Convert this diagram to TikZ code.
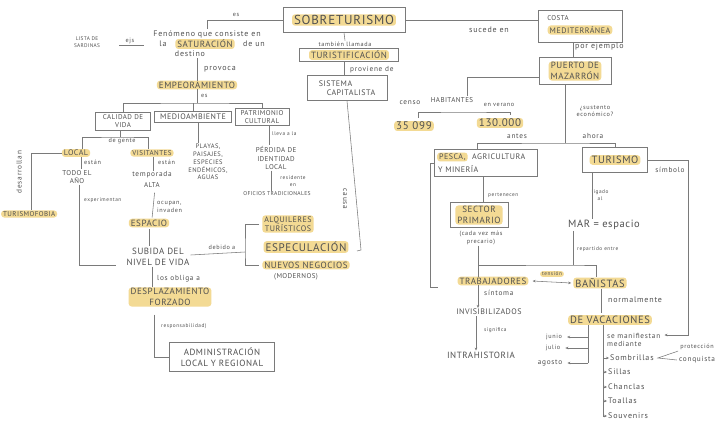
\documentclass[tikz,border=0pt]{standalone}
\usepackage{fontspec}
\setmainfont{PT Sans}
\newfontfamily\spc{PT Sans}[LetterSpace=6]
\newfontfamily\lspc{PT Sans}[LetterSpace=10]
\usetikzlibrary{arrows.meta}
\definecolor{tc}{HTML}{505050}
\definecolor{lc}{HTML}{7A7A7A}
\definecolor{hlc}{HTML}{F3DA94}
\begin{document}
\begin{tikzpicture}[x=1pt,y=-1pt,
  every node/.style={text=tc, inner sep=1pt},
  conn/.style={draw=lc, line width=0.55pt},
  arr/.style={conn, -{Stealth[length=3pt,width=2.6pt]}},
  box/.style={draw=lc, line width=0.6pt, inner sep=0pt},
  kT/.style={font=\spc\fontsize{5.6}{6.6}\selectfont, align=center},
  kXS/.style={font=\spc\fontsize{6.5}{7.8}\selectfont, align=center},
  kS/.style={font=\spc\fontsize{7}{8.3}\selectfont, align=center},
  kM/.style={font=\spc\fontsize{8}{9.5}\selectfont, align=center},
  kL/.style={font=\spc\fontsize{9}{10.5}\selectfont, align=center},
  kX/.style={font=\spc\fontsize{10.5}{12}\selectfont, align=center},
  fen/.style={font=\lspc\fontsize{8}{9}\selectfont, align=center},
  la/.style={font=\lspc\fontsize{7.3}{8.3}\selectfont, align=center},
  lbm/.style={font=\lspc\fontsize{6.2}{7.2}\selectfont, align=center},
  lsm/.style={font=\lspc\fontsize{5.3}{6.3}\selectfont, align=center},
  item/.style={font=\lspc\fontsize{8}{9}\selectfont},
  hl/.style={fill=hlc, rounded corners=3pt, inner xsep=2pt, inner ysep=1pt},
]
\fill[white] (0,0) rectangle (720,424);
\useasboundingbox (0,0) rectangle (720,424);

% ---------- top centre ----------
\node[hl, font=\spc\fontsize{13}{15}\selectfont] (sobt) at (344,20) {SOBRETURISMO};
\node[box, minimum width=122pt, minimum height=25pt] (sob) at (344,20) {};
\node[lbm] (es) at (236,15) {es};

\node[fen] (fen1) at (207,34) {Fenómeno que consiste en};
\node[fen] (fen2a) at (163,44) {la};
\node[hl, kL] (sat) at (205,44) {SATURACIÓN};
\node[fen] (fen2b) at (254,44) {de un};
\node[fen] (fen3) at (190,54) {destino};
\draw[conn] (sob.west) -| (fen1.north);

\node[font=\spc\fontsize{5.3}{6.3}\selectfont, align=center] (lista) at (87,42) {LISTA DE\\SARDINAS};
\node[lbm] (ejs) at (130,41) {ejs};
\draw[conn] ([xshift=-5pt]ejs.south west) -- ([xshift=8pt]ejs.south east);

\node[hl, kL] (emp) at (197,85) {EMPEORAMIENTO};
\node[fen, anchor=west] (provoca) at (203,69) {provoca};
\draw[conn] (emp.north |- fen3.south) -- (emp.north);
\node[lbm, anchor=west] (es2) at (200,96) {es};
\coordinate (bar1) at (197,103);
\draw[conn] (emp.south) -- (bar1);

\node[box, kS, minimum width=55pt, minimum height=18pt] (cal) at (123,121) {CALIDAD DE\\VIDA};
\node[box, kM, minimum width=77pt, minimum height=11pt] (med) at (193,117) {MEDIOAMBIENTE};
\node[box, kS, minimum width=54pt, minimum height=17pt] (pat) at (262,117) {PATRIMONIO\\CULTURAL};
\draw[conn] (cal.north) |- (bar1) -| (pat.north);
\draw[conn] (bar1 -| med.north) -- (med.north);

% ---------- calidad de vida ----------
\coordinate (bar2) at (120,137);
\node[lbm] (gente) at (122,141) {de gente};
\node[hl, kM] (local) at (76,153) {LOCAL};
\node[hl, kS] (visit) at (152,153) {VISITANTES};
\draw[conn] (cal.south -| bar2) -- (bar2);
\draw[conn] ([xshift=6pt]local.north) |- (bar2) -| ([xshift=-4pt]visit.north);

\node[hl, kS, anchor=west] (fobia) at (1,214) {TURISMOFOBIA};
\draw[conn] (local.west) -| ([xshift=2pt]fobia.north);
\node[la, rotate=90] (desa) at (19,172) {desarrollan};

\node[lbm, anchor=west] (estan1) at (83,162) {están};
\node[kS] (todo) at (77,177) {TODO EL\\AÑO};
\draw[conn] ([xshift=-2pt]estan1.west |- local.south) -- ([xshift=-2pt]estan1.west |- todo.north);
\node[lsm, anchor=west] (exper) at (83,200) {experimentan};
\coordinate (subL) at (116,265);
\draw[conn] ([xshift=2pt]todo.south) |- (subL);

\node[lbm, anchor=west] (estan2) at (157,162) {están};
\node[la] (temp) at (152,175) {temporada};
\node[kS] (alta) at (152,185) {ALTA};
\draw[conn] ([xshift=1pt]visit.south) -- ([xshift=1pt]visit.south |- temp.north);
\node[lbm, anchor=west, align=left] (ocupan) at (156,207) {ocupan,\\invaden};
\node[hl, kL] (esp) at (149,223) {ESPACIO};
\draw[conn, shorten <=4pt, shorten >=1pt] ([xshift=3pt]alta.south) -- ([xshift=3pt]esp.north);

\node[kL] (sub) at (158,257) {SUBIDA DEL\\NIVEL DE VIDA};
\draw[conn, shorten <=2pt, shorten >=1pt] (esp.south) -- (esp.south |- sub.north);

\node[lbm] (deb) at (222,247) {debido a};
\coordinate (brk) at (245,252);
\draw[conn] ([yshift=2pt]sub.east) -- (brk);
\node[hl, kM] (alq) at (288,224) {ALQUILERES\\TURÍSTICOS};
\node[hl, font=\spc\fontsize{11}{12.5}\selectfont] (espec) at (306,247) {ESPECULACIÓN};
\node[hl, kL] (nue) at (306,265) {NUEVOS NEGOCIOS};
\node[kS] (mod) at (296,277) {(MODERNOS)};
\draw[conn] ([xshift=-3pt]alq.west) -| (brk) |- ([xshift=-3pt]nue.west);

\node[la, anchor=west] (obl) at (156,279) {los obliga a};
\node[hl, kL] (desp) at (170,297) {DESPLAZAMIENTO\\FORZADO};
\draw[conn] ([xshift=-6pt]sub.south) -- ([xshift=-6pt]sub.south |- desp.north);
\node[lsm, anchor=west] (resp) at (160,326) {responsabilidad)};
\node[box, kL, minimum width=105pt, minimum height=29pt] (adm) at (222,357) {ADMINISTRACIÓN\\LOCAL Y REGIONAL};
\draw[conn] ([xshift=-16pt,yshift=-8pt]desp.south) |- (adm.west);

% ---------- medioambiente / patrimonio ----------
\node[kXS] (play) at (208,162) {PLAYAS,\\PAISAJES,\\ESPECIES\\ENDÉMICOS,\\AGUAS};
\draw[conn] ([xshift=5pt]med.south) -- ([xshift=5pt]med.south |- play.north);

\node[lsm, anchor=west] (lleva) at (271,134) {lleva a la};
\node[kS] (perd) at (276,158) {PÉRDIDA DE\\IDENTIDAD\\LOCAL};
\draw[conn] ([xshift=-2pt]lleva.west |- pat.south) -- ([xshift=-2pt]lleva.west |- perd.north);
\node[lsm] (resid) at (293,181) {residente\\en};
\node[kT] (ofic) at (277,194) {OFICIOS TRADICIONALES};
\draw[conn] ([xshift=-5pt]perd.south) -- ([xshift=-5pt]perd.south |- ofic.north);

% ---------- centre column ----------
\node[lbm] (tamb) at (345,44) {también llamada};
\draw[conn] (sob.south) -- (tamb.north);
\node[hl, kL] (turt) at (349,55) {TURISTIFICACIÓN};
\node[box, minimum width=99pt, minimum height=13pt] (tur) at (349,55) {};
\node[la, anchor=west] (prov) at (349,70) {proviene de};
\node[box, kM, minimum width=80pt, minimum height=25pt, align=left] (sis) at (347,88) {SISTEMA\\\quad CAPITALISTA};
\draw[conn] ([xshift=-5pt]tur.south) -- ([xshift=-5pt]tur.south |- sis.north);
\coordinate (causaEnd) at (361,250);
\coordinate (causaTip) at (357,251);
\draw[conn] (sis.south) -- (causaEnd) -- (causaTip);
\node[la, rotate=-90] (causa) at (345,199) {causa};

% ---------- right top ----------
\node[kS] (cos1) at (558,18) {COSTA};
\node[hl, kM] (cos2) at (580,30) {MEDITERRÁNEA};
\node[box, minimum width=84pt, minimum height=32pt] (cos) at (580,26) {};
\draw[conn] (sob.east) -- (sob.east -| cos.west);
\node[fen] (suc) at (489,30) {sucede en};
\node[fen, anchor=west] (ej) at (574,47) {por ejemplo};

\node[hl, kL] (puet) at (575,71) {PUERTO DE\\MAZARRÓN};
\node[box, minimum width=72pt, minimum height=27pt] (pue) at (575,71) {};
\draw[conn] ([xshift=-7pt]cos.south) -- ([xshift=-7pt]cos.south |- pue.north);

\node[kS] (hab) at (452,100) {HABITANTES};
\draw[conn] ([yshift=-6pt]pue.west) -| ([xshift=15pt]hab.north);
\node[la] (censo) at (410,103) {censo};
\node[lbm] (ver) at (499,105) {en verano};
\coordinate (habB) at (463,112);
\node[hl, font=\spc\fontsize{11}{12.5}\selectfont] (n1) at (414,126) {35 099};
\node[hl, font=\spc\fontsize{11}{12.5}\selectfont] (n2) at (500,123) {130.000};
\draw[conn] ([xshift=4pt,yshift=3pt]n1.north) |- (habB) -| ([xshift=10pt,yshift=3pt]n2.north);

\node[lbm] (sust) at (595,111) {¿sustento\\económico?};
\node[la] (antes) at (517,136) {antes};
\node[la] (ahora) at (593,136) {ahora};
\coordinate (sbar) at (565,143);

\node[box, minimum width=103pt, minimum height=27pt] (pes) at (486,163) {};
\node[hl, kM, anchor=west] (pesca) at (437,157) {PESCA,};
\node[kM, anchor=west] (agri) at (471,157) {AGRICULTURA};
\node[kM, anchor=west] (mine) at (437,169) {Y MINERÍA};
\node[hl, kX] (turi) at (615,160) {TURISMO};
\node[box, minimum width=65pt, minimum height=25pt] (tur2) at (615,160) {};
\draw[conn] ([xshift=-10pt]pue.south) -- (sbar);
\draw[conn] ([xshift=-9pt]pes.north) |- (sbar) -| (tur2.north);
\node[la] (simb) at (670,170) {símbolo};

\node[lsm, anchor=west] (pert) at (487,195) {pertenecen};
\node[hl, kL] (secT) at (479,215) {SECTOR\\PRIMARIO};
\node[box, minimum width=58pt, minimum height=25pt] (sec) at (479,215) {};
\draw[conn] ([xshift=-3pt]pes.south) -- ([xshift=-3pt]pes.south |- sec.north);
\node[lbm] (prec) at (481,238) {(cada vez más\\precario)};

\node[lsm] (lig) at (600,195) {ligado\\al};
\node[font=\spc\fontsize{10.5}{12}\selectfont] (mar) at (604,225) {MAR = espacio};
\draw[conn] ([xshift=-23pt]tur2.south) -- ([xshift=-23pt]tur2.south |- mar.north);

\node[lsm, anchor=west] (rep) at (576,249) {repartido entre};
\coordinate (rbar) at (573,265);
\coordinate (tl) at (478,265);
\draw[conn] (rbar |- mar.south) -- (rbar);
\node[hl, kL] (trab) at (493,281) {TRABAJADORES};
\node[hl, kX] (ban) at (600,283) {BAÑISTAS};
\draw[conn] (tl |- prec.south) -- (tl |- trab.north);
\draw[conn] (tl) -- (rbar) -| ([xshift=-4pt]ban.north);
\node[hl, lsm] (tens) at (552,274) {tensión};
\draw[conn, {Stealth[length=3pt,width=2.6pt]}-{Stealth[length=3pt,width=2.6pt]}] ([xshift=4pt]trab.east) -- ([xshift=-2pt]ban.west);

\coordinate (lb) at (438,287);
\draw[conn] (pes.west) -- ++(-4,0) |- (lb);

\node[la, anchor=west] (sint) at (483,293) {síntoma};
\node[kM] (inv) at (489,312) {INVISIBILIZADOS};
\draw[arr] (tl |- trab.south) -- (tl |- inv.north);
\node[lsm, anchor=west] (sig) at (483,330) {significa};
\node[kL] (intra) at (481,355) {INTRAHISTORIA};
\draw[arr] ([xshift=-2pt]tl |- inv.south) -- ([xshift=-2pt]tl |- intra.north);

\node[fen, anchor=west] (norm) at (607,300) {normalmente};
\node[hl, kX] (vac) at (610,320) {DE VACACIONES};
\draw[conn, shorten >=2pt] ([xshift=1pt]ban.south) -- ([xshift=1pt]ban.south |- vac.north);

\node[lbm] (jun) at (554,337) {junio};
\node[lbm] (jul) at (553,348) {julio};
\node[la] (ago) at (550,363) {agosto};
\coordinate (mvb) at (588,363);
\draw[conn] (vac.south -| mvb) -- (mvb);
\draw[arr] (jun.east -| mvb) -- ([xshift=4pt]jun.east);
\draw[arr] (jul.east -| mvb) -- ([xshift=4pt]jul.east);
\draw[arr] (mvb) -- ([xshift=4pt]ago.east);

\coordinate (iv) at (603,416);
\node[la, anchor=west, align=left] (manif) at (606,340) {se manifiestan\\mediante};
\node[item, anchor=west] (somb) at (609,358) {Sombrillas};
\node[item, anchor=west] (sill) at (607,372) {Sillas};
\node[item, anchor=west] (chan) at (607,387) {Chanclas};
\node[item, anchor=west] (toal) at (607,401) {Toallas};
\node[item, anchor=west] (souv) at (607,416) {Souvenirs};
\draw[conn] (vac.south -| iv) -- (iv);
\draw[arr] (somb.west -| iv) -- (somb.west);
\draw[arr] (sill.west -| iv) -- (sill.west);
\draw[arr] (chan.west -| iv) -- (chan.west);
\draw[arr] (toal.west -| iv) -- (toal.west);
\draw[arr] (iv) -- (souv.west);

\node[lbm] (prot) at (697,347) {protección};
\node[la] (conq) at (697,360) {conquista};
\draw[conn] ([xshift=-1pt]prot.south west) -- ([xshift=3pt]somb.east) -- ([xshift=-1pt]conq.west);

\coordinate (sr) at (688,335);
\draw[arr] (tur2.east) -| (sr) -- ([xshift=3pt]sr -| manif.east);
\end{tikzpicture}
\end{document}
